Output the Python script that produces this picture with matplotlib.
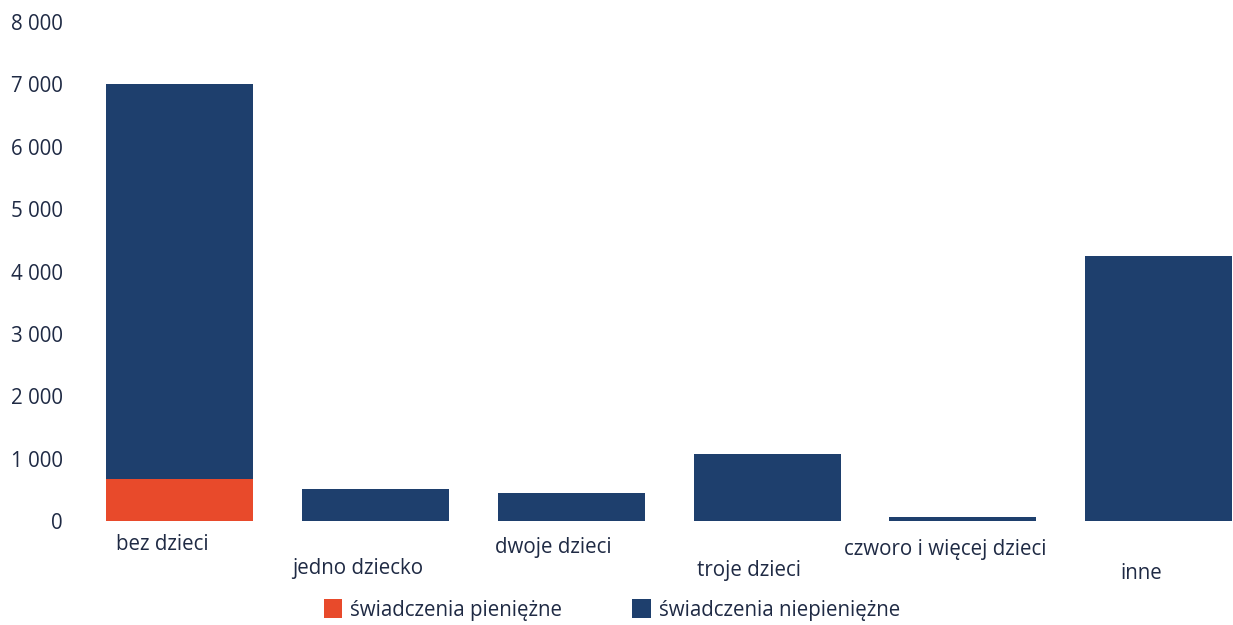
import matplotlib
matplotlib.use("agg")
import matplotlib.pyplot as plt

plt.rcParams['font.family'] = ['Open Sans', 'DejaVu Sans']

categories = ['bez dzieci', 'jedno dziecko', 'dwoje dzieci', 'troje dzieci',
              'czworo i więcej dzieci', 'inne']
pieniezne = [670, 0, 0, 0, 0, 0]
niepieniezne = [6330, 510, 450, 1080, 70, 4250]
yticks = [0, 1000, 2000, 3000, 4000, 5000, 6000, 7000, 8000]
ytick_labels = ['0', '1 000', '2 000', '3 000', '4 000', '5 000', '6 000', '7 000', '8 000']

red = '#e84a2b'
blue = '#1e3f6d'
text_col = '#1f2a44'
fs = 14.8

fig = plt.figure(figsize=(12.33, 6.25), dpi=100)
ax = fig.add_axes([0.0665, 0.1664, 0.9335, 0.7984])

x = range(len(categories))
b1 = ax.bar(x, pieniezne, width=0.75, color=red, label='świadczenia pieniężne')
b2 = ax.bar(x, niepieniezne, width=0.75, bottom=pieniezne, color=blue,
            label='świadczenia niepieniężne')

ax.set_xlim(-0.5, 5.38)
ax.set_ylim(0, 8000)
ax.set_yticks(yticks)
ax.set_yticklabels(ytick_labels, fontsize=fs, color=text_col)
ax.tick_params(axis='y', length=0, pad=14)
ax.set_xticks([])
for s in ax.spines.values():
    s.set_visible(False)

# staggered category labels
for i, c in enumerate(categories):
    off = -17 if i % 2 == 0 else -33
    off -= i * 0.9
    ax.annotate(c, xy=(i - 0.09, 0), xycoords=('data', 'axes fraction'),
                xytext=(0, off), textcoords='offset points',
                ha='center', va='center', fontsize=fs, color=text_col)

fig.legend(handles=[b1, b2], loc='center', bbox_to_anchor=(612 / 1233, 1 - 610 / 625),
           ncol=2, frameon=False, fontsize=fs, handlelength=0.9, handleheight=1.0,
           handletextpad=0.4, columnspacing=3.4, labelcolor=text_col)

plt.savefig('out.png', dpi=100)
